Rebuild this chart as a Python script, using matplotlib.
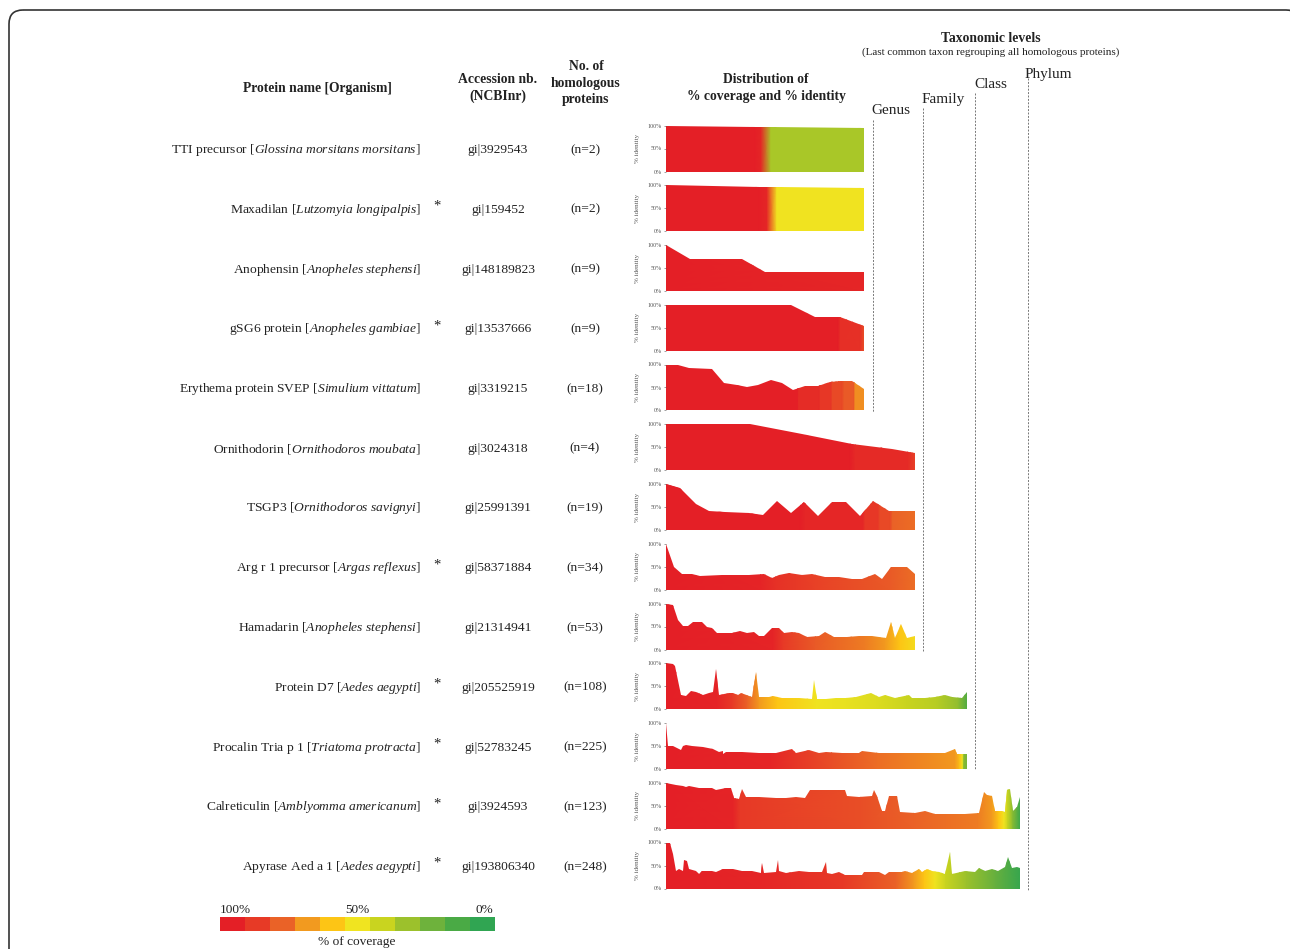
import numpy as np
import matplotlib
matplotlib.use('Agg')
from matplotlib import pyplot as plt
from matplotlib.colors import LinearSegmentedColormap, Normalize
from matplotlib.patches import FancyBboxPatch

plt.rcParams['font.family'] = ['Liberation Serif', 'DejaVu Serif']
plt.rcParams['mathtext.fontset'] = 'custom'
plt.rcParams['mathtext.rm'] = 'Liberation Serif'
plt.rcParams['mathtext.it'] = 'Liberation Serif:italic'

W, H = 1290, 949

# --- table columns ---
names = [r"TTI precursor [$\mathit{Glossina\ morsitans\ morsitans}$]",
         r"Maxadilan [$\mathit{Lutzomyia\ longipalpis}$]",
         r"Anophensin [$\mathit{Anopheles\ stephensi}$]",
         r"gSG6 protein [$\mathit{Anopheles\ gambiae}$]",
         r"Erythema protein SVEP [$\mathit{Simulium\ vittatum}$]",
         r"Ornithodorin [$\mathit{Ornithodoros\ moubata}$]",
         r"TSGP3 [$\mathit{Ornithodoros\ savignyi}$]",
         r"Arg r 1 precursor [$\mathit{Argas\ reflexus}$]",
         r"Hamadarin [$\mathit{Anopheles\ stephensi}$]",
         r"Protein D7 [$\mathit{Aedes\ aegypti}$]",
         r"Procalin Tria p 1 [$\mathit{Triatoma\ protracta}$]",
         r"Calreticulin [$\mathit{Amblyomma\ americanum}$]",
         r"Apyrase Aed a 1 [$\mathit{Aedes\ aegypti}$]"]
starred = [False, True, False, True, False, False, False, True, False, True, True, True, True]
accessions = ['gi|3929543', 'gi|159452', 'gi|148189823', 'gi|13537666', 'gi|3319215',
              'gi|3024318', 'gi|25991391', 'gi|58371884', 'gi|21314941', 'gi|205525919',
              'gi|52783245', 'gi|3924593', 'gi|193806340']
n_homologs = [2, 2, 9, 9, 18, 4, 19, 34, 53, 108, 225, 123, 248]
# 0 genus, 1 family, 2 class, 3 phylum
tax_level = [0, 0, 0, 0, 0, 1, 1, 1, 1, 2, 2, 3, 3]
tax_names = ['Genus', 'Family', 'Class', 'Phylum']

# --- profiles: x = position along ranked homologs (0-1), identity in %, coverage in % ---
tti_x = [0, 0.45, 0.48, 0.53, 1]
tti_id = [100, 97.7, 97.5, 97.2, 95]
tti_cx = [0, 0.45, 0.48, 0.53, 1]
tti_cov = [100, 100, 97, 33, 33]

maxa_x = [0, 0.47, 0.51, 0.56, 1]
maxa_id = [100, 97, 96.5, 96, 93]
maxa_cx = [0, 0.47, 0.51, 0.56, 1]
maxa_cov = [100, 100, 97, 50, 50]

anoph_x = [0, 0.122, 0.383, 0.5, 1]
anoph_id = [100, 69, 69, 42, 40.5]
anoph_cx = [0, 1]
anoph_cov = [100, 97]

gsg6_x = [0, 0.63, 0.752, 0.877, 1]
gsg6_id = [100, 100, 74, 74, 53]
gsg6_cx = [0, 0.87, 0.88, 0.98, 1]
gsg6_cov = [100, 100, 94, 93, 85]

svep_x = [0, .059, .114, .232, .294, .357, .408, .466, .530, .584, .643, .701, .768, .827, .877, .940, 1]
svep_id = [100, 98.5, 93, 91.3, 60, 55, 52, 55, 67, 59, 44, 53, 54, 61, 64, 64, 46]
svep_cx = [0, .665, .67, .775, .78, .835, .84, .89, .9, .95, .955, 1]
svep_cov = [100, 100, 95, 95, 91, 91, 86, 86, 82, 82, 72, 72]

orni_x = [0, 0.338, 0.546, 0.748, 0.909, 1]
orni_id = [100, 100, 78, 58, 47, 38]
orni_cx = [0, 0.74, 0.76, 0.97, 1]
orni_cov = [100, 100, 96, 96, 88]

tsgp_x = [0, .056, .121, .174, .238, .332, .388, .446, .502, .556, .611, .667, .721, .779, .831, .896, 1]
tsgp_id = [100, 91, 56, 41, 39, 36, 32, 62, 37, 61, 31, 61, 61, 30, 62, 41, 41]
tsgp_cx = [0, .54, .56, .79, .8, .85, .86, .9, .91, 1]
tsgp_cov = [100, 100, 97, 97, 91, 91, 86, 86, 80, 78]

argr_x = [0, .034, .066, .103, .136, .224, .332, .392, .425, .452, .492, .546, .586, .64, .694, .747,
          .787, .841, .868, .902, .969, 1]
argr_id = [100, 50, 35, 35, 30, 33, 31.4, 33.6, 25, 31, 36, 31, 34, 28, 28, 24, 22.6, 34, 24, 50, 50, 34]
argr_cx = [0, .38, .44, .6, .9, 1]
argr_cov = [100, 98, 93, 88, 82, 78]

hama_x = [0, .030, .050, .070, .090, .110, .144, .164, .184, .204, .264, .298, .325, .352, .372, .392,
          .426, .452, .472, .506, .533, .566, .613, .640, .674, .728, .774, .828, .882, .902, .919, .942,
          .969, 1]
hama_id = [100, 97, 64, 51, 51, 59, 59, 49, 46, 36, 36, 40, 36, 39, 30, 30, 47, 46, 36, 38, 36.5, 28,
           30, 39, 28, 28, 30, 30, 25.4, 59, 26, 55, 26, 29]
hama_cx = [0, .43, .47, .6, .8, .88, .94, 1]
hama_cov = [100, 98, 90, 82, 75, 70, 60, 53]

d7_x = [0, .022, .031, .050, .066, .083, .099, .122, .144, .157, .166, .177, .210, .221, .238, .249,
        .287, .298, .309, .343, .354, .387, .442, .486, .492, .501, .530, .564, .569, .597, .630, .680,
        .707, .729, .762, .807, .818, .862, .895, .928, .950, .983, 1]
d7_id = [100, 99, 93, 31, 29, 40, 37, 31, 35, 37, 88, 32, 35, 36, 31, 35, 27, 81, 27, 26, 29, 24, 24,
         22, 64, 22, 22, 24, 25, 24, 27, 35, 27, 32, 25, 31, 25, 24, 27, 32, 27, 25, 37]
d7_cx = [0, .17, .22, .27, .31, .37, .5, .6, .7, .8, .9, .97, 1]
d7_cov = [100, 98, 90, 80, 70, 60, 50, 48, 45, 40, 36, 28, 12]

proc_x = [0, .006, .022, .044, .050, .055, .066, .088, .122, .155, .177, .188, .190, .199, .254, .309,
          .365, .420, .431, .475, .508, .530, .586, .641, .652, .707, .751, .807, .862, .928, .961, .967, 1]
proc_id = [100, 50, 49, 44, 42, 51, 52.5, 50, 47, 43, 36, 39, 33, 36, 36, 35, 35, 43, 35, 41, 34, 38,
           35, 34, 40, 35, 35, 34, 35, 34, 44, 32, 32]
proc_cx = [0, .35, .55, .7, .96, .975, .985, .99, 1]
proc_cov = [100, 97, 85, 78, 70, 62, 50, 25, 22]

calr_x = [0, .014, .028, .047, .056, .066, .094, .131, .141, .169, .183, .192, .207, .216, .225, .263,
          .310, .338, .366, .394, .408, .507, .512, .545, .582, .587, .596, .610, .620, .629, .653, .662,
          .704, .732, .761, .845, .883, .897, .906, .920, .930, .948, .958, .962, .972, .981, .991, 1]
calr_id = [100, 97, 95, 93, 91, 92, 89, 89, 85, 89, 89, 66, 64, 86.8, 69, 68, 67, 66, 68, 66, 84, 84,
           72, 69, 72, 84, 72, 38, 38, 72, 72, 37, 35, 38, 33, 33, 34, 80, 73, 72, 38, 38.7, 36.5, 84,
           86, 38, 47, 69]
calr_cx = [0, .19, .21, .55, .7, .88, .92, .94, .955, .965, .98, 1]
calr_cov = [100, 98, 90, 85, 80, 75, 70, 60, 50, 40, 25, 5]

apyr_x = [0, .011, .019, .028, .038, .047, .052, .058, .066, .085, .094, .103, .131, .141, .160, .188,
          .216, .244, .268, .272, .277, .310, .315, .319, .338, .376, .404, .441, .451, .455, .469, .488,
          .507, .554, .559, .601, .620, .629, .667, .676, .695, .714, .723, .737, .751, .770, .789, .803,
          .808, .845, .873, .883, .901, .920, .939, .958, .967, .977, .991, 1]
apyr_id = [100, 98.5, 74, 38, 42, 38, 62, 60, 42, 38, 32, 39, 39, 36, 42, 42, 39, 38, 33, 55, 34, 36,
           61, 38, 33, 38, 35, 35, 58, 33, 31, 36, 29, 29, 36, 35, 29, 36, 36, 39, 34, 42, 36, 42, 38,
           36, 31, 80, 32, 38, 36, 44, 38, 43, 39, 47, 69, 44, 47, 45]
apyr_cx = [0, .27, .5, .65, .7, .73, .76, .79, .85, .93, 1]
apyr_cov = [100, 97, 90, 80, 70, 60, 50, 40, 30, 18, 3]

profiles = [(tti_x, tti_id, tti_cx, tti_cov), (maxa_x, maxa_id, maxa_cx, maxa_cov),
            (anoph_x, anoph_id, anoph_cx, anoph_cov), (gsg6_x, gsg6_id, gsg6_cx, gsg6_cov),
            (svep_x, svep_id, svep_cx, svep_cov), (orni_x, orni_id, orni_cx, orni_cov),
            (tsgp_x, tsgp_id, tsgp_cx, tsgp_cov), (argr_x, argr_id, argr_cx, argr_cov),
            (hama_x, hama_id, hama_cx, hama_cov), (d7_x, d7_id, d7_cx, d7_cov),
            (proc_x, proc_id, proc_cx, proc_cov), (calr_x, calr_id, calr_cx, calr_cov),
            (apyr_x, apyr_id, apyr_cx, apyr_cov)]

# coverage colour scale, from 0% (green) to 100% (red)
cov_colors = ['#30A552', '#4AAA45', '#6EB23C', '#9CC12C', '#C9D41F', '#F0E420',
              '#FDC515', '#F29A1F', '#EA6227', '#E73A26', '#E41F26']
cmap = LinearSegmentedColormap.from_list('cov', cov_colors)
norm = Normalize(0, 100)

TXT = '#222222'
FS = 9.7
fig = plt.figure(figsize=(W / 100, H / 100), dpi=100)
ax0 = fig.add_axes([0, 0, 1, 1])
ax0.set_xlim(0, W)
ax0.set_ylim(H, 0)
ax0.axis('off')

# rounded frame
ax0.add_patch(FancyBboxPatch((9, 10), 1291, 1000, boxstyle='round,pad=0,rounding_size=14',
                             facecolor='none', edgecolor='#333333', lw=1.2))


def row_y(i):
    return 148.5 + 59.75 * i


# headers
hb = dict(fontsize=9.8, fontweight='bold', color=TXT, ha='center', va='center', linespacing=1.38)
ax0.text(317, 88, 'Protein name [Organism]', **hb)
ax0.text(498, 88, 'Accession nb.\n(NCBInr)', **hb)
ax0.text(586, 83, 'No. of\nhomologous\nproteins', **hb)
ax0.text(766, 88, 'Distribution of\n% coverage and % identity', **hb)
ax0.text(991, 38, 'Taxonomic levels', **hb)
ax0.text(991, 52, '(Last common taxon regrouping all homologous proteins)', fontsize=8,
         color=TXT, ha='center', va='center')

tax_x = [873, 923, 975, 1028]
tax_top = [120, 108, 93, 78]
tax_label_y = [110, 99, 84, 74]
tax_label_x = [891, 943, 991, 1048]
chart_right = [864, 915, 967, 1020]
for k in range(4):
    last = max(i for i in range(13) if tax_level[i] == k)
    ax0.plot([tax_x[k], tax_x[k]], [tax_top[k], row_y(last) + 24], color='#777777', lw=0.7,
             ls=(0, (2, 1.5)))
    ax0.text(tax_label_x[k], tax_label_y[k], tax_names[k], fontsize=11, color=TXT,
             ha='center', va='center')

# rows
for i in range(13):
    y = row_y(i)
    ax0.text(421, y + 1.5, names[i], fontsize=FS, color=TXT, ha='right', va='center')
    if starred[i]:
        ax0.text(437, y - 2, '*', fontsize=10.5, color=TXT, ha='center', va='center')
    ax0.text(498, y + 1.5, accessions[i], fontsize=FS, color=TXT, ha='center', va='center')
    ax0.text(585, y + 1.5, '(n=%d)' % n_homologs[i], fontsize=FS, color=TXT, ha='center', va='center')

    x, ident, cx, cov = profiles[i]
    right = chart_right[tax_level[i]]
    ax = fig.add_axes([666 / W, 1 - (y + 23) / H, (right - 666) / W, 46 / H])
    ax.set_xlim(0, 1)
    ax.set_ylim(0, 100)
    poly = ax.fill(np.r_[x[0], x, x[-1]], np.r_[0, ident, 0], facecolor='none', edgecolor='none')[0]
    cxa = np.asarray(cx, dtype=float)
    cva = np.asarray(cov, dtype=float)
    mesh = ax.pcolormesh(np.vstack([cxa, cxa]), np.vstack([np.zeros_like(cxa), np.full_like(cxa, 100)]),
                         np.vstack([cva, cva]), cmap=cmap, norm=norm, shading='gouraud')
    mesh.set_clip_path(poly)
    for s in ax.spines.values():
        s.set_visible(False)
    ax.set_xticks([])
    ax.set_yticks([0, 50, 100])
    ax.set_yticklabels(['0%', '50%', '100%'])
    ax.tick_params(axis='y', length=1.8, width=0.4, pad=1, labelsize=4.3, colors='#555555')
    ax.set_ylabel('% identity', fontsize=5, color='#555555', labelpad=6)
    ax.patch.set_alpha(0)

# coverage legend
axl = fig.add_axes([220 / W, 1 - 931 / H, 275 / W, 14 / H])
axl.bar(np.arange(11), np.ones(11), width=1, color=cov_colors[::-1], edgecolor='none')
axl.set_xlim(-0.5, 10.5)
axl.set_ylim(0, 1)
axl.axis('off')
ax0.text(220, 910, '100%', fontsize=9.5, color=TXT, ha='left', va='center')
ax0.text(357, 910, '50%', fontsize=9.5, color=TXT, ha='center', va='center')
ax0.text(493, 910, '0%', fontsize=9.5, color=TXT, ha='right', va='center')
ax0.text(357, 942, '% of coverage', fontsize=9.6, color=TXT, ha='center', va='center')

fig.savefig('out.png', dpi=100)
